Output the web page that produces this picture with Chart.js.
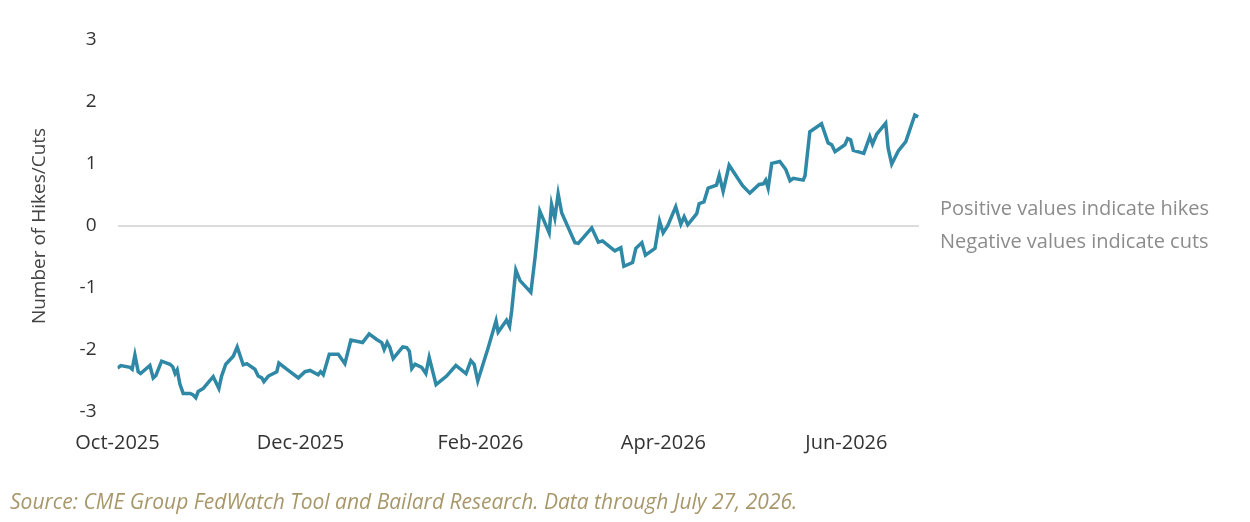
<!DOCTYPE html>
<html>
<head>
<meta charset="utf-8">
<script src="https://cdn.jsdelivr.net/npm/chart.js@4/dist/chart.umd.min.js"></script>
<style>
  html, body { margin: 0; padding: 0; background: #fff; }
  #wrap { position: relative; width: 1250px; height: 522px; }
</style>
</head>
<body>
<div id="wrap"><canvas id="chart" width="1250" height="522"></canvas></div>
<script>
// days since 1 Oct 2025
var days = [0, 1.1, 4.2, 4.9, 5.8, 6.9, 7.7, 10.8, 11.9, 12.8, 14.7, 17.5, 18.4, 19.2, 19.9, 20.8, 21.9, 24.2, 25.1, 26.1,
  26.9, 28.6, 31.9, 33.8, 34.7, 36.1, 38.6, 39.9, 41.9, 43.1, 45.8, 46.9, 48.1, 48.8, 50.3, 53.1, 53.8, 56.4, 60.3, 62.5,
  64.2, 66.9, 67.7, 68.6, 70.6, 73.6, 75.8, 77.8, 81.7, 83.9, 86.4, 88.1, 88.9, 89.9, 90.8, 91.9, 95.1, 96.4, 97.3, 98.1,
  99.2, 101.4, 102.8, 103.9, 106.2, 109.7, 112.8, 116.2, 117.8, 118.9, 120.1, 123.6, 126.2, 126.9, 129.7, 130.7, 131.4, 132.8, 134.2, 137.8,
  139.2, 140.8, 143.9, 144.7, 145.8, 146.9, 148.1, 152.5, 153.6, 158.1, 160.3, 161.7, 165.8, 167.8, 168.8, 171.7, 172.8, 174.8, 176, 179.2,
  180.7, 181.9, 183.4, 186.1, 187.8, 188.9, 190.1, 193.1, 193.9, 195.5, 196.9, 199.7, 200.6, 201.9, 203.9, 208.4, 210.8, 213.9, 215.3, 216.1,
  216.9, 218.1, 220.8, 222.8, 224.2, 225.3, 228.6, 229.2, 230.8, 234.7, 236.9, 238.1, 239.2, 242.5, 243.4, 244.4, 245.3, 248.8, 250.8, 251.7,
  253.1, 256.1, 256.9, 258.1, 260.3, 262.8, 265.8, 266.9];

// number of hikes (+) / cuts (-) priced
var hikesCuts = [-2.29, -2.25, -2.28, -2.31, -2.08, -2.35, -2.38, -2.25, -2.45, -2.41, -2.18, -2.23, -2.27, -2.38, -2.32, -2.55, -2.70, -2.70, -2.72, -2.77,
  -2.67, -2.62, -2.43, -2.62, -2.42, -2.23, -2.10, -1.95, -2.24, -2.22, -2.31, -2.42, -2.45, -2.51, -2.42, -2.35, -2.21, -2.31, -2.45, -2.35,
  -2.33, -2.40, -2.35, -2.40, -2.07, -2.07, -2.22, -1.84, -1.88, -1.74, -1.83, -1.88, -1.99, -1.88, -1.96, -2.14, -1.95, -1.96, -2.02, -2.30,
  -2.23, -2.28, -2.38, -2.12, -2.56, -2.42, -2.25, -2.38, -2.17, -2.23, -2.50, -1.96, -1.53, -1.71, -1.52, -1.62, -1.37, -0.71, -0.88, -1.07,
  -0.51, 0.24, -0.11, 0.35, 0.13, 0.52, 0.21, -0.27, -0.28, -0.03, -0.26, -0.24, -0.40, -0.35, -0.65, -0.59, -0.36, -0.27, -0.47, -0.36,
  0.08, -0.11, 0.00, 0.31, 0.03, 0.15, 0.02, 0.20, 0.36, 0.39, 0.61, 0.66, 0.82, 0.56, 0.98, 0.65, 0.53, 0.67, 0.68, 0.74,
  0.61, 1.01, 1.04, 0.91, 0.73, 0.77, 0.74, 0.81, 1.52, 1.65, 1.34, 1.31, 1.20, 1.31, 1.41, 1.39, 1.22, 1.17, 1.44, 1.32,
  1.48, 1.66, 1.26, 1.00, 1.21, 1.36, 1.79, 1.76];

// x tick positions (days since 1 Oct 2025, as placed in the picture) and their labels
var tickDays = [0, 61, 121, 182, 243];
var tickLabels = ['Oct-2025', 'Dec-2025', 'Feb-2026', 'Apr-2026', 'Jun-2026'];

var notes = ['Positive values indicate hikes', 'Negative values indicate cuts'];
var sourceText = 'Source: CME Group FedWatch Tool and Bailard Research. Data through July 27, 2026.';

var FONT = "'Open Sans', sans-serif";

var points = days.map(function (d, i) { return { x: d, y: hikesCuts[i] }; });

// extra text: side notes and source line
var textPlugin = {
    id: 'extraText',
    afterDraw: function (chart) {
        var ctx = chart.ctx;
        ctx.save();
        ctx.textBaseline = 'middle';
        ctx.textAlign = 'left';
        ctx.fillStyle = '#8c8c8c';
        ctx.font = '20px ' + FONT;
        ctx.fillText(notes[0], 940, 209);
        ctx.fillText(notes[1], 940, 242);
        ctx.fillStyle = '#a8976a';
        ctx.font = 'italic 21px ' + FONT;
        ctx.fillText(sourceText, 10, 503);
        ctx.restore();
    }
};

var ctx = document.getElementById('chart').getContext('2d');
var chart = new Chart(ctx, {
    type: 'line',
    data: {
        datasets: [{
            data: points,
            borderColor: '#2f89a6',
            borderWidth: 3.5,
            pointRadius: 0,
            tension: 0,
            fill: false
        }]
    },
    options: {
        responsive: false,
        animation: false,
        layout: { padding: { top: 40, right: 331, left: 0, bottom: 0 } },
        plugins: { legend: { display: false }, tooltip: { enabled: false } },
        scales: {
            x: {
                type: 'linear',
                min: 0,
                max: 267.2,
                grid: { display: false },
                border: { display: false },
                afterBuildTicks: function (scale) {
                    scale.ticks = tickDays.map(function (v) { return { value: v }; });
                },
                afterFit: function (scale) { scale.height = 110; },
                ticks: {
                    autoSkip: false,
                    maxRotation: 0,
                    padding: 11,
                    color: '#333333',
                    font: { family: FONT, size: 20 },
                    callback: function (value) {
                        var i = tickDays.indexOf(value);
                        return i >= 0 ? tickLabels[i] : '';
                    }
                }
            },
            y: {
                min: -3,
                max: 3,
                afterFit: function (scale) { scale.width = 117.5; },
                border: { display: false },
                grid: {
                    drawTicks: false,
                    lineWidth: 2,
                    color: function (c) { return c.tick && c.tick.value === 0 ? '#dcdcdc' : 'rgba(0,0,0,0)'; }
                },
                ticks: {
                    stepSize: 1,
                    padding: 21,
                    color: '#333333',
                    font: { family: FONT, size: 19 }
                },
                title: {
                    display: true,
                    text: 'Number of Hikes/Cuts',
                    color: '#444444',
                    padding: { top: 28, bottom: 0 },
                    font: { family: FONT, size: 19 }
                }
            }
        }
    },
    plugins: [textPlugin]
});
</script>
</body>
</html>
